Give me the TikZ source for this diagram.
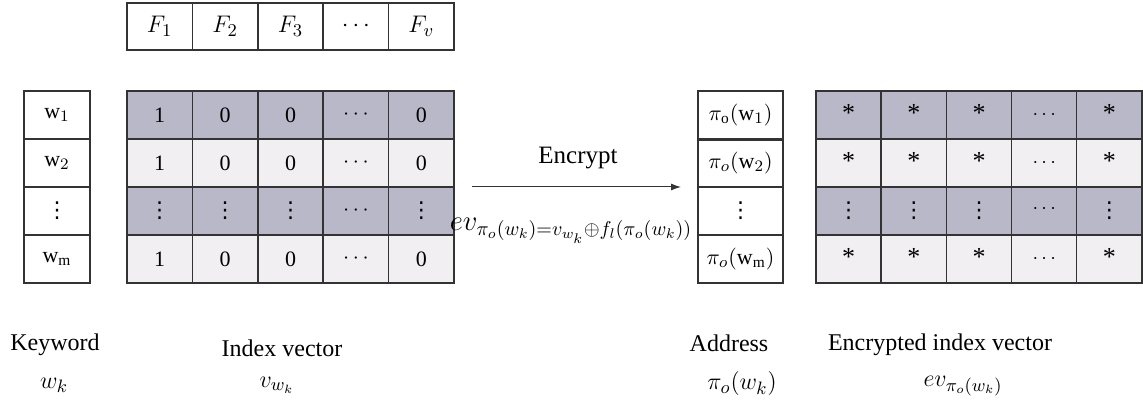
\documentclass[tikz,border=0pt]{standalone}
\usepackage{fontspec}
\setmainfont{Liberation Serif}
\newfontfamily\symfnt{DejaVu Sans}
\usetikzlibrary{arrows.meta}
\definecolor{rowdark}{HTML}{B9B8C8}
\definecolor{rowlight}{HTML}{F2EFF3}
\definecolor{edge}{HTML}{333333}
\tikzset{
  cell/.style={draw=edge, line width=0.75pt, inner sep=0pt, minimum width=32.7pt,
    minimum height=24pt, font=\fontsize{11}{13}\selectfont},
  enccell/.style={cell, font=\fontsize{10}{12}\selectfont},
  lbl/.style={inner sep=0pt, font=\fontsize{12}{14}\selectfont},
  mlbl/.style={inner sep=0pt, font=\fontsize{13}{15}\selectfont},
  arr/.style={draw=edge, line width=0.5pt, -{Latex[length=5pt,width=3.5pt]}}
}
\newcommand\encast{\raisebox{2pt}{\fontsize{13}{13}\selectfont *}}
\newcommand\vd{{\symfnt\fontsize{11}{13}\selectfont ⋮}}
\begin{document}
\begin{tikzpicture}[x=0.5pt,y=-0.5pt]
\useasboundingbox (0,0) rectangle (1143,415);
% feature header
\foreach \c/\t in {1/{$F_1$},2/{$F_2$},3/{$F_3$},4/{$\cdots$},5/{$F_v$}}
  \node[cell, fill=white, minimum height=23.5pt, font=\fontsize{12.5}{14}\selectfont] (F-\c) at ({127+65.4*(\c-0.5)},26.5) {\t};
% keyword column
\foreach \r/\t in {1/{$\mathrm{w}_1$},2/{$\mathrm{w}_2$},3/\vd,4/{$\mathrm{w}_{\mathrm{m}}$}}
  \node[cell, fill=white, minimum width=33pt] (kw-\r) at (57,{91+48*(\r-0.5)}) {\t};
% index matrix
\foreach \r/\f in {1/rowdark,2/rowlight,4/rowlight}
  \foreach \c/\t in {1/1,2/0,3/0,4/{$\cdots$},5/0}
    \node[cell, fill=\f] (idx-\r-\c) at ({127+65.4*(\c-0.5)},{91+48*(\r-0.5)}) {\t};
\foreach \c/\t in {1/\vd,2/\vd,3/\vd,4/{$\cdots$},5/\vd}
  \node[cell, fill=rowdark] (idx-3-\c) at ({127+65.4*(\c-0.5)},{91+48*2.5}) {\t};
% address column
\foreach \r/\t in {1/{$\pi_{\mathrm{o}}(\mathrm{w}_1)$},2/{$\pi_o(\mathrm{w}_2)$},3/\vd,4/{$\pi_o(\mathrm{w}_{\mathrm{m}})$}}
  \node[cell, fill=white, minimum width=42.5pt] (addr-\r) at (740.5,{91+48*(\r-0.5)}) {\t};
\draw[draw=edge, line width=1.3pt] (addr-1.south west) -- (addr-1.south east);
% encrypted matrix
\foreach \r/\f in {1/rowdark,2/rowlight,4/rowlight}
  \foreach \c/\t in {1/\encast,2/\encast,3/\encast,4/{$\cdots$},5/\encast}
    \node[enccell, fill=\f] (enc-\r-\c) at ({816+65.2*(\c-0.5)},{91+48*(\r-0.5)}) {\t};
\foreach \c/\t in {1/\vd,2/\vd,3/\vd,4/{\raisebox{2pt}{$\cdots$}},5/\vd}
  \node[enccell, fill=rowdark] (enc-3-\c) at ({816+65.2*(\c-0.5)},{91+48*2.5}) {\t};
% arrow
\coordinate (arrS) at (472,187);
\coordinate (arrE) at (681,187);
\draw[arr] (arrS) -- (arrE);
\node[lbl, font=\fontsize{12.5}{15}\selectfont] (enc-lbl) at (578,158) {Encrypt};
\node[lbl, font=\fontsize{14}{16}\selectfont] (formula) at (571,231) {$ev_{\pi_o(w_k)=v_{w_k}\oplus f_l(\pi_o(w_k))}$};
% bottom labels
\node[lbl] (l-kw) at (55,345) {Keyword};
\node[lbl] (l-idx) at (282,348) {Index vector};
\node[lbl] (l-addr) at (729,343) {Address};
\node[lbl] (l-enc) at (940,345) {Encrypted index vector};
\node[mlbl] (m-kw) at (54,385) {$w_k$};
\node[mlbl] (m-idx) at (277,385) {$v_{w_k}$};
\node[mlbl] (m-addr) at (742,384) {$\pi_o(w_k)$};
\node[mlbl] (m-enc) at (963,386) {$ev_{\pi_o(w_k)}$};
\end{tikzpicture}
\end{document}
